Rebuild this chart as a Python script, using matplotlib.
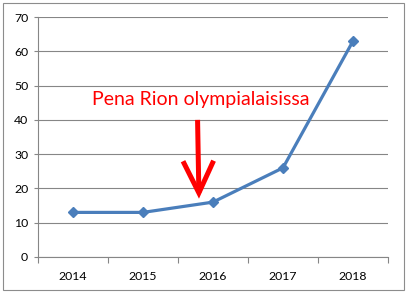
import matplotlib.pyplot as plt
from matplotlib.patches import Rectangle

years = ['2014', '2015', '2016', '2017', '2018']
values = [13, 13, 16, 26, 63]
yticks = [0, 10, 20, 30, 40, 50, 60, 70]
note = 'Pena Rion olympialaisissa'

plt.rcParams['font.family'] = ['Lato', 'DejaVu Sans']

fig = plt.figure(figsize=(4.08, 2.94), dpi=100)
ax = fig.add_axes([0.093, 0.126, 0.858, 0.816])

# chart frame
fig.patches.append(Rectangle((0.008, 0.012), 0.982, 0.978, transform=fig.transFigure,
                             fill=False, edgecolor='#8c8c8c', linewidth=0.8))

x = list(range(len(years)))
ax.plot(x, values, color='#4a7ebb', linewidth=2.3, marker='D', markersize=5.5,
        markerfacecolor='#4a7ebb', markeredgecolor='#4a7ebb')

ax.set_xlim(-0.5, len(years) - 0.5)
ax.set_ylim(0, 70)
ax.set_yticks(yticks)
ax.set_xticks(x)
ax.set_xticklabels(years)
ax.set_xticks([i - 0.5 for i in range(len(years) + 1)], minor=True)
ax.tick_params(axis='x', which='major', length=0, pad=10, labelsize=8.8)
ax.tick_params(axis='x', which='minor', length=4, color='#868686', width=0.8)
ax.tick_params(axis='y', length=3, color='#868686', width=0.8, labelsize=8.8, pad=4)

ax.grid(axis='y', color='#868686', linewidth=0.8)
ax.set_axisbelow(True)
for s in ['top', 'right']:
    ax.spines[s].set_visible(False)
for s in ['left', 'bottom']:
    ax.spines[s].set_color('#868686')
    ax.spines[s].set_linewidth(0.8)

ax.text(1.82, 46, note, color='#ff0000', fontsize=14, ha='center', va='center')
ax.annotate('', xy=(1.8, 17), xytext=(1.78, 40),
            arrowprops=dict(arrowstyle='->,head_width=1.1,head_length=2.3',
                            color='#ff0000', linewidth=3.6, shrinkA=0, shrinkB=0,
                            joinstyle='miter', capstyle='butt'))

plt.savefig('out.png', dpi=100)
